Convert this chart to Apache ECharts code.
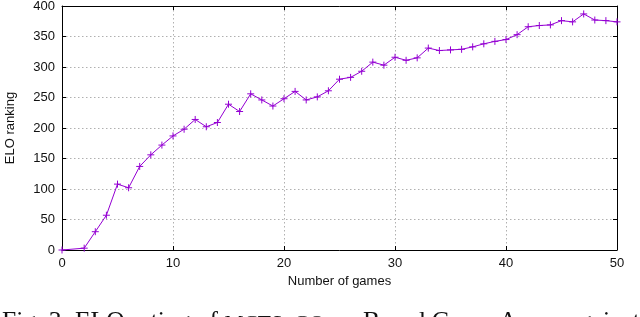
<!DOCTYPE html>
<html>
<head>
<meta charset="utf-8">
<script src="https://cdn.jsdelivr.net/npm/echarts@6/dist/echarts.min.js"></script>
<style>
html,body{margin:0;padding:0;background:#fff;}
#chart{width:640px;height:317px;}
</style>
</head>
<body>
<div id="chart"></div>
<script>
// Data
const games = [0, 2, 3, 4, 5, 6, 7, 8, 9, 10, 11, 12, 13, 14, 15, 16, 17, 18, 19, 20,
  21, 22, 23, 24, 25, 26, 27, 28, 29, 30, 31, 32, 33, 34, 35, 36, 37, 38, 39, 40,
  41, 42, 43, 44, 45, 46, 47, 48, 49, 50];
const elo = [0, 3, 30, 57, 108, 102, 137, 156, 172, 187, 198, 214, 202, 209, 239, 227, 256, 246, 236, 248,
  260, 246, 251, 261, 280, 283, 293, 308, 303, 316, 311, 315, 331, 327, 328, 329, 333, 338, 342, 345,
  353, 366, 368, 369, 376, 374, 387, 377, 376, 374];
const xAxisTitle = 'Number of games';
const yAxisTitle = 'ELO ranking';
const captionParts = ['Fig. 3: ELO rating of ', 'MCTS_GO', ' on Board Game Arena against'];

const points = games.map((g, i) => [g, elo[i]]);
const purple = '#9400d3';
const labelFont = {fontFamily: 'Liberation Sans', fontSize: 13, color: '#111'};

const chart = echarts.init(document.getElementById('chart'), null, {renderer: 'canvas'});
chart.setOption({
  animation: false,
  backgroundColor: '#fff',
  grid: {left: 62, right: 23, top: 6, bottom: 67, containLabel: false, outerBoundsMode: 'none'},
  xAxis: [{
    type: 'value', min: 0, max: 50, interval: 10,
    name: xAxisTitle, nameLocation: 'middle', nameGap: 24,
    nameTextStyle: labelFont,
    axisLine: {show: true, lineStyle: {color: '#000', width: 1}},
    axisTick: {show: true, inside: true, length: 4, lineStyle: {color: '#000'}},
    axisLabel: Object.assign({margin: 7}, labelFont),
    splitLine: {show: true, lineStyle: {color: '#b0b0b0', width: 1, type: [1.5, 2.5]}}
  }, {
    type: 'value', min: 0, max: 50, interval: 10, position: 'top',
    axisLine: {show: true, onZero: false, lineStyle: {color: '#000', width: 1}},
    axisTick: {show: true, inside: true, length: 4, lineStyle: {color: '#000'}},
    axisLabel: {show: false}, splitLine: {show: false}
  }],
  yAxis: [{
    type: 'value', min: 0, max: 400, interval: 50,
    name: yAxisTitle, nameLocation: 'middle', nameGap: 45, nameRotate: 90,
    nameTextStyle: labelFont,
    axisLine: {show: true, lineStyle: {color: '#000', width: 1}},
    axisTick: {show: true, inside: true, length: 4, lineStyle: {color: '#000'}},
    axisLabel: Object.assign({margin: 7}, labelFont),
    splitLine: {show: true, lineStyle: {color: '#b0b0b0', width: 1, type: [1.5, 2.5]}}
  }, {
    type: 'value', min: 0, max: 400, interval: 50, position: 'right',
    axisLine: {show: true, onZero: false, lineStyle: {color: '#000', width: 1}},
    axisTick: {show: true, inside: true, length: 4, lineStyle: {color: '#000'}},
    axisLabel: {show: false}, splitLine: {show: false}
  }],
  series: [{
    type: 'line',
    data: points,
    xAxisIndex: 0, yAxisIndex: 0,
    symbol: 'path://M0,4H8M4,0V8',
    symbolSize: 7,
    showAllSymbol: true,
    lineStyle: {color: purple, width: 1},
    itemStyle: {color: purple, borderColor: purple, borderWidth: 1},
    clip: false
  }],
  graphic: [{
    type: 'text',
    left: 2, top: 309,
    style: {
      text: captionParts[0] + '{sc|' + captionParts[1] + '}' + captionParts[2],
      font: '25.5px "Liberation Serif"',
      fill: '#111',
      rich: {sc: {fontFamily: 'Liberation Serif', fontSize: 21.5, fill: '#111', verticalAlign: 'bottom'}}
    }
  }]
});
</script>
</body>
</html>
